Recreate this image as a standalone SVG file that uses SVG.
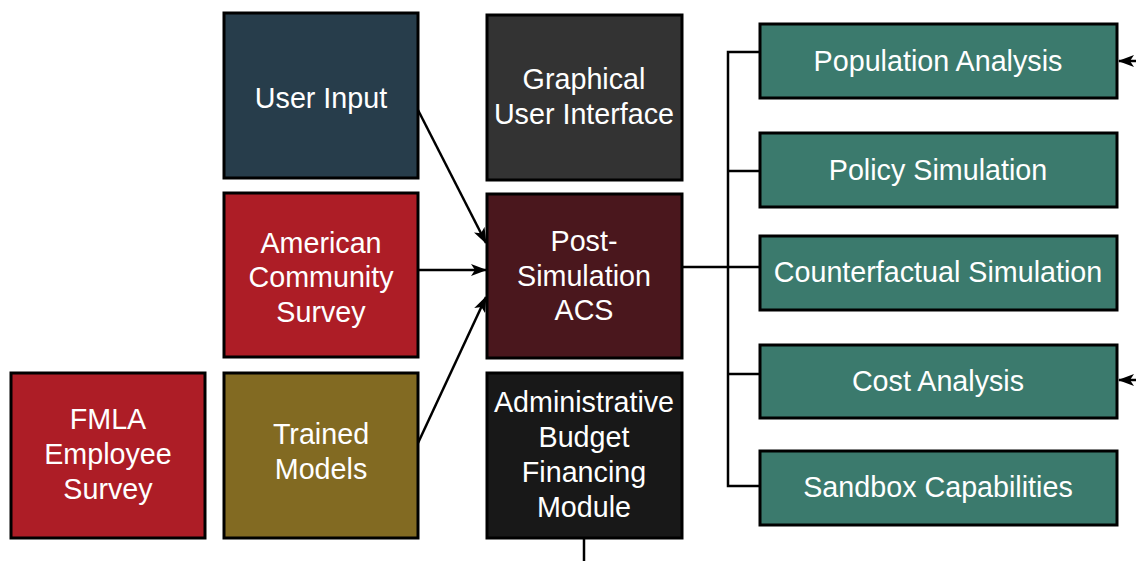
<svg xmlns="http://www.w3.org/2000/svg" width="1136" height="561" viewBox="0 0 1136 561">
  <style>
    .box { stroke: #000; stroke-width: 3; }
    .lbl { font-family: "Liberation Sans", Arial, sans-serif; font-size: 28.7px; fill: #fff; text-anchor: middle; }
    .wire { fill: none; stroke: #000; stroke-width: 2.5; }
  </style>
  <defs>
    <marker id="arrow" viewBox="0 0 16 12" refX="15" refY="6" markerWidth="16" markerHeight="12" markerUnits="userSpaceOnUse" orient="auto">
      <path d="M0,0 L16,6 L0,12 L4,6 Z" fill="#000"/>
    </marker>
  </defs>
  <rect width="1136" height="561" fill="#fff"/>

  <!-- connectors -->
  <g id="connectors">
    <line class="wire" x1="418" y1="110" x2="486" y2="243" marker-end="url(#arrow)"/>
    <line class="wire" x1="418" y1="270" x2="486" y2="270" marker-end="url(#arrow)"/>
    <line class="wire" x1="418" y1="443" x2="486" y2="297" marker-end="url(#arrow)"/>
    <line class="wire" x1="682" y1="267" x2="760" y2="267"/>
    <polyline class="wire" points="760,52 728,52 728,486 760,486"/>
    <line class="wire" x1="728" y1="171" x2="760" y2="171"/>
    <line class="wire" x1="728" y1="374" x2="760" y2="374"/>
    <line class="wire" x1="1145" y1="61" x2="1119" y2="61" marker-end="url(#arrow)"/>
    <line class="wire" x1="1145" y1="380" x2="1119" y2="380" marker-end="url(#arrow)"/>
    <line class="wire" x1="584" y1="538" x2="584" y2="561"/>
  </g>

  <!-- input column -->
  <g id="user-input">
    <rect class="box" x="224" y="13" width="194" height="165" fill="#273d4b"/>
    <text class="lbl" x="321" y="108">User Input</text>
  </g>
  <g id="american-community-survey">
    <rect class="box" x="224" y="193" width="194" height="164" fill="#ad1d26"/>
    <text class="lbl" x="321" y="253">American</text>
    <text class="lbl" x="321" y="287">Community</text>
    <text class="lbl" x="321" y="322">Survey</text>
  </g>
  <g id="trained-models">
    <rect class="box" x="224" y="373" width="194" height="165" fill="#826a22"/>
    <text class="lbl" x="321" y="444">Trained</text>
    <text class="lbl" x="321" y="479">Models</text>
  </g>
  <g id="fmla-employee-survey">
    <rect class="box" x="11" y="373" width="194" height="165" fill="#ad1d26"/>
    <text class="lbl" x="108" y="429">FMLA</text>
    <text class="lbl" x="108" y="464">Employee</text>
    <text class="lbl" x="108" y="499">Survey</text>
  </g>

  <!-- core column -->
  <g id="graphical-user-interface">
    <rect class="box" x="487" y="15" width="195" height="165" fill="#333333"/>
    <text class="lbl" x="584" y="89">Graphical</text>
    <text class="lbl" x="584" y="124">User Interface</text>
  </g>
  <g id="post-simulation-acs">
    <rect class="box" x="487" y="194" width="195" height="164" fill="#4a171d"/>
    <text class="lbl" x="584" y="251">Post-</text>
    <text class="lbl" x="584" y="286">Simulation</text>
    <text class="lbl" x="584" y="320">ACS</text>
  </g>
  <g id="administrative-budget-financing-module">
    <rect class="box" x="487" y="373" width="195" height="165" fill="#181818"/>
    <text class="lbl" x="584" y="412">Administrative</text>
    <text class="lbl" x="584" y="447">Budget</text>
    <text class="lbl" x="584" y="482">Financing</text>
    <text class="lbl" x="584" y="517">Module</text>
  </g>

  <!-- output column -->
  <g id="population-analysis">
    <rect class="box" x="760" y="24" width="357" height="74" fill="#3b7a6d"/>
    <text class="lbl" x="938" y="71">Population Analysis</text>
  </g>
  <g id="policy-simulation">
    <rect class="box" x="760" y="133" width="357" height="74" fill="#3b7a6d"/>
    <text class="lbl" x="938" y="180">Policy Simulation</text>
  </g>
  <g id="counterfactual-simulation">
    <rect class="box" x="760" y="236" width="357" height="74" fill="#3b7a6d"/>
    <text class="lbl" x="938" y="282">Counterfactual Simulation</text>
  </g>
  <g id="cost-analysis">
    <rect class="box" x="760" y="345" width="357" height="73" fill="#3b7a6d"/>
    <text class="lbl" x="938" y="391">Cost Analysis</text>
  </g>
  <g id="sandbox-capabilities">
    <rect class="box" x="760" y="451" width="357" height="74" fill="#3b7a6d"/>
    <text class="lbl" x="938" y="497">Sandbox Capabilities</text>
  </g>
</svg>
